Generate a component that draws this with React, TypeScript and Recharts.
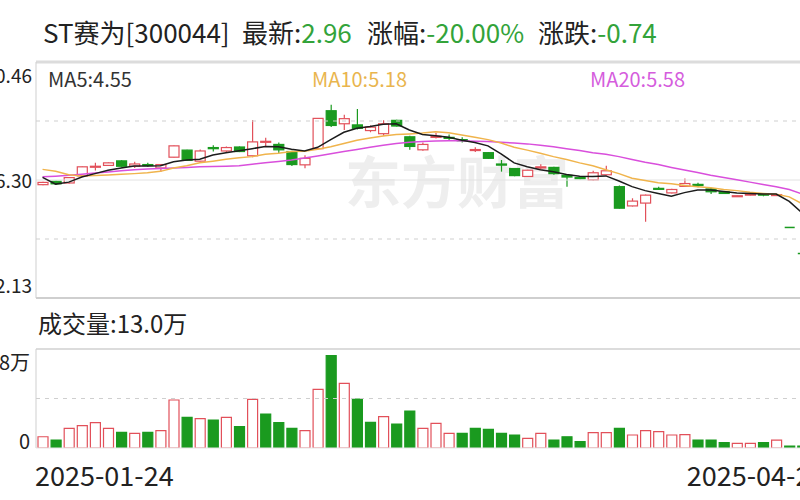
import React from "react";
import {
  ComposedChart,
  Bar,
  Line,
  XAxis,
  YAxis,
  ReferenceLine,
  Cell,
} from "recharts";

const dates = [
  "2025-01-24", "2025-01-27",
  "2025-02-05", "2025-02-06", "2025-02-07", "2025-02-10", "2025-02-11", "2025-02-12", "2025-02-13", "2025-02-14",
  "2025-02-17", "2025-02-18", "2025-02-19", "2025-02-20", "2025-02-21", "2025-02-24", "2025-02-25", "2025-02-26",
  "2025-02-27", "2025-02-28",
  "2025-03-03", "2025-03-04", "2025-03-05", "2025-03-06", "2025-03-07", "2025-03-10", "2025-03-11", "2025-03-12",
  "2025-03-13", "2025-03-14", "2025-03-17", "2025-03-18", "2025-03-19", "2025-03-20", "2025-03-21", "2025-03-24",
  "2025-03-25", "2025-03-26", "2025-03-27", "2025-03-28", "2025-03-31",
  "2025-04-01", "2025-04-02", "2025-04-03", "2025-04-07", "2025-04-08", "2025-04-09", "2025-04-10", "2025-04-11",
  "2025-04-14", "2025-04-15", "2025-04-16", "2025-04-17", "2025-04-18", "2025-04-21", "2025-04-22", "2025-04-23",
  "2025-04-24", "2025-04-25", "2025-04-28",
];

const opens = [
  6.13, 6.25, 6.19, 6.44, 6.75, 6.81, 6.97, 6.78, 6.84, 6.72,
  7.10, 7.35, 6.96, 7.44, 7.32, 7.46, 7.15, 7.64, 7.55, 7.30,
  6.83, 7.40, 8.74, 8.28, 8.24, 8.04, 7.93, 8.40, 7.82, 7.36,
  7.80, 7.80, 7.72, 7.34, 7.26, 6.86, 6.70, 6.42, 6.72, 6.74,
  6.46, 6.38, 6.30, 6.48, 6.06, 5.38, 5.48, 6.00, 5.84, 6.07,
  6.14, 5.98, 5.88, 5.72, 5.76, 5.80, 5.76, 4.62, 3.70, 2.96,
];
const highs = [
  6.23, 6.27, 6.40, 6.78, 6.90, 6.92, 6.99, 6.94, 6.90, 6.86,
  7.52, 7.36, 7.37, 7.52, 7.48, 7.48, 8.41, 7.79, 7.62, 7.33,
  7.17, 8.47, 8.95, 8.60, 8.80, 8.22, 8.40, 8.42, 7.86, 7.62,
  7.95, 7.90, 7.80, 7.45, 7.28, 7.00, 6.72, 6.66, 6.85, 6.76,
  6.47, 6.40, 6.62, 6.80, 6.10, 5.65, 5.78, 6.06, 5.99, 6.35,
  6.20, 6.02, 5.90, 5.76, 5.82, 5.82, 5.80, 4.62, 3.70, 2.96,
];
const lows = [
  6.11, 6.13, 6.17, 6.42, 6.63, 6.79, 6.74, 6.72, 6.76, 6.59,
  7.08, 6.97, 6.94, 7.30, 7.28, 7.28, 7.10, 7.47, 7.24, 6.79,
  6.71, 7.38, 8.17, 8.06, 8.08, 7.98, 7.86, 8.18, 7.36, 7.33,
  7.76, 7.70, 7.62, 7.28, 7.04, 6.59, 6.43, 6.40, 6.68, 6.48,
  6.06, 6.32, 6.28, 6.45, 5.28, 5.36, 4.82, 5.94, 5.82, 6.05,
  6.04, 5.80, 5.80, 5.70, 5.74, 5.72, 5.74, 4.62, 3.70, 2.96,
];
const closes = [
  6.21, 6.16, 6.38, 6.76, 6.78, 6.90, 6.78, 6.86, 6.82, 6.84,
  7.50, 6.99, 7.32, 7.40, 7.44, 7.30, 7.64, 7.66, 7.36, 6.84,
  7.06, 8.47, 8.22, 8.46, 8.12, 8.16, 8.28, 8.20, 7.48, 7.55,
  7.84, 7.78, 7.68, 7.37, 7.06, 6.82, 6.45, 6.64, 6.76, 6.52,
  6.40, 6.34, 6.55, 6.62, 5.30, 5.55, 5.76, 5.98, 5.96, 6.17,
  6.10, 5.88, 5.82, 5.74, 5.80, 5.76, 5.78, 4.62, 3.70, 2.96,
];

// moving averages as drawn in the picture
const ma5 = [
  6.39, 6.15, 6.22, 6.40, 6.52, 6.64, 6.72, 6.79, 6.79, 6.80,
  6.94, 7.00, 7.03, 7.18, 7.26, 7.33, 7.40, 7.48, 7.47, 7.38,
  7.32, 7.45, 7.72, 7.98, 8.12, 8.18, 8.26, 8.28, 8.06, 7.90,
  7.86, 7.80, 7.70, 7.62, 7.50, 7.22, 6.90, 6.76, 6.66, 6.59,
  6.49, 6.43, 6.42, 6.44, 6.26, 6.06, 5.92, 5.82, 5.72, 5.85,
  5.94, 5.94, 5.89, 5.84, 5.82, 5.80, 5.80, 5.54, 5.13, 4.55,
];
const ma10 = [
  6.67, 6.60, 6.48, 6.44, 6.45, 6.47, 6.50, 6.52, 6.55, 6.60,
  6.72, 6.80, 6.90, 6.96, 7.03, 7.08, 7.12, 7.20, 7.24, 7.30,
  7.31, 7.38, 7.47, 7.58, 7.70, 7.78, 7.85, 7.90, 7.92, 7.95,
  8.00, 7.96, 7.88, 7.80, 7.72, 7.60, 7.45, 7.35, 7.24, 7.12,
  7.02, 6.90, 6.80, 6.66, 6.52, 6.36, 6.28, 6.20, 6.16, 6.10,
  6.06, 6.02, 5.96, 5.92, 5.86, 5.82, 5.79, 5.70, 5.45, 5.18,
];
const ma20 = [
  6.41, 6.43, 6.46, 6.50, 6.54, 6.58, 6.62, 6.66, 6.68, 6.70,
  6.72, 6.74, 6.76, 6.77, 6.78, 6.80, 6.85, 6.90, 6.95, 7.00,
  7.07, 7.14, 7.22, 7.30, 7.37, 7.45, 7.52, 7.58, 7.63, 7.65,
  7.67, 7.68, 7.68, 7.66, 7.65, 7.63, 7.60, 7.57, 7.52, 7.47,
  7.40, 7.34, 7.26, 7.20, 7.12, 7.02, 6.92, 6.84, 6.74, 6.65,
  6.56, 6.46, 6.38, 6.30, 6.22, 6.14, 6.06, 5.96, 5.80, 5.58,
];

// volume in 万手
const volumes = [
  2.05, 1.45, 3.58, 4.06, 4.6, 3.58, 2.85, 2.67, 2.85, 3.15,
  8.73, 5.58, 5.33, 5.09, 5.58, 3.88, 8.85, 6.18, 4.6, 3.58,
  3.15, 10.67, 16.78, 11.76, 8.91, 4.67, 5.7, 4.36, 6.73, 3.58,
  4.49, 2.67, 2.67, 3.58, 3.39, 2.67, 2.36, 1.76, 2.67, 1.45,
  2.05, 1.15, 2.79, 2.79, 3.58, 2.36, 3.15, 2.97, 2.36, 2.42,
  1.45, 1.45, 0.97, 0.85, 0.85, 0.97, 1.45, 0.36, 0.36, 13.0,
];
const volColors = [
  "r", "g", "r", "r", "r", "r", "g", "r", "g", "r",
  "r", "g", "r", "g", "r", "g", "r", "g", "g", "g",
  "r", "r", "g", "r", "g", "g", "r", "g", "g", "r",
  "r", "r", "g", "g", "g", "g", "g", "r", "r", "g",
  "g", "g", "r", "r", "g", "r", "r", "r", "r", "r",
  "g", "g", "g", "r", "r", "g", "r", "g", "g", "g",
];

const priceTicks = [2.13, 6.295, 10.46];
const priceTickLabels = ["2.13", "6.30", "10.46"];
const volTicks = [0, 18];
const volTickLabels = ["0", "18万"];

const RED = "#e2505a";
const GREEN = "#1a9a1f";
const FONT = "'Noto Sans CJK SC', 'Noto Sans', sans-serif";

const data = dates.map((d, i) => ({
  date: d,
  o: opens[i],
  h: highs[i],
  l: lows[i],
  c: closes[i],
  up:
    closes[i] > opens[i] ||
    (closes[i] === opens[i] && i > 0 && closes[i] >= closes[i - 1]),
  ma5: ma5[i],
  ma10: ma10[i],
  ma20: ma20[i],
  vol: volumes[i],
  volUp: volColors[i] === "r",
}));

const Candle = (props: any) => {
  const { x, y, width, height, payload } = props;
  if (x == null || y == null) return null;
  const { o, h, l, c, up } = payload;
  const color = up ? RED : GREEN;
  const cx = x + width / 2;
  const y1 = Math.min(y, y + height);
  const y2 = Math.max(y, y + height);
  if (h === l || y2 - y1 < 0.5) {
    return <line x1={cx - 5} x2={cx + 5} y1={y1} y2={y1} stroke={color} strokeWidth={1.5} />;
  }
  const k = (y2 - y1) / (h - l);
  const py = (p: number) => y1 + (h - p) * k;
  const top = py(Math.max(o, c));
  const bot = py(Math.min(o, c));
  const bw = 10;
  return (
    <g>
      <line x1={cx} x2={cx} y1={y1} y2={top} stroke={color} strokeWidth={1.2} />
      <line x1={cx} x2={cx} y1={bot} y2={y2} stroke={color} strokeWidth={1.2} />
      <rect
        x={cx - bw / 2}
        y={top}
        width={bw}
        height={Math.max(bot - top, 1)}
        fill={up ? "#fff" : color}
        stroke={color}
        strokeWidth={1.2}
      />
    </g>
  );
};

const PriceTick = (props: any) => {
  const { x, y, index } = props;
  const dy = index === 2 ? 12 : index === 0 ? -14 : -1;
  return (
    <text x={x + 4} y={y + dy} textAnchor="end" dominantBaseline="central" fontSize={19} fill="#222" fontFamily={FONT}>
      {priceTickLabels[index]}
    </text>
  );
};

const VolTick = (props: any) => {
  const { x, y, index } = props;
  const dy = index === 1 ? 12 : -8;
  return (
    <text x={x + 2} y={y + dy} textAnchor="end" dominantBaseline="central" fontSize={20} fill="#222" fontFamily={FONT}>
      {volTickLabels[index]}
    </text>
  );
};

const DateTick = (props: any) => {
  const { x, y, payload } = props;
  const first = payload.value === dates[0];
  return (
    <text
      x={first ? x - 7.5 : x + 10}
      y={y + 18}
      textAnchor={first ? "start" : "end"}
      dominantBaseline="central"
      fontSize={27}
      fill="#222"
      fontFamily={FONT}
    >
      {payload.value}
    </text>
  );
};

export default function App() {
  return (
    <div
      style={{
        position: "absolute",
        left: 0,
        top: 0,
        width: 800,
        height: 500,
        overflow: "hidden",
        background: "#fff",
        fontFamily: FONT,
        color: "#222",
      }}
    >
      {/* title */}
      <div style={{ position: "absolute", top: 17, left: 43, fontSize: 26, lineHeight: "30px", whiteSpace: "nowrap" }}>
        ST赛为[300044]
      </div>
      <div style={{ position: "absolute", top: 17, left: 242, fontSize: 26, lineHeight: "30px", whiteSpace: "nowrap" }}>
        最新:<span style={{ color: "#33a33a" }}>2.96</span>
      </div>
      <div style={{ position: "absolute", top: 17, left: 367, fontSize: 26, lineHeight: "30px", whiteSpace: "nowrap" }}>
        涨幅:<span style={{ color: "#33a33a" }}>-20.00%</span>
      </div>
      <div style={{ position: "absolute", top: 17, left: 538, fontSize: 26, lineHeight: "30px", whiteSpace: "nowrap" }}>
        涨跌:<span style={{ color: "#33a33a" }}>-0.74</span>
      </div>

      {/* watermark */}
      <div
        style={{
          position: "absolute",
          top: 146,
          left: 345,
          fontSize: 56,
          lineHeight: "66px",
          fontWeight: 700,
          color: "#eeeeee",
          whiteSpace: "nowrap",
        }}
      >
        东方财富
      </div>

      {/* MA legend */}
      <div style={{ position: "absolute", top: 67, left: 48, fontSize: 20, lineHeight: "24px", color: "#333" }}>MA5:4.55</div>
      <div style={{ position: "absolute", top: 67, left: 312, fontSize: 20, lineHeight: "24px", color: "#e9b54e" }}>MA10:5.18</div>
      <div style={{ position: "absolute", top: 67, left: 590, fontSize: 20, lineHeight: "24px", color: "#d55ddd" }}>MA20:5.58</div>

      <div style={{ position: "absolute", top: 0, left: 0 }}>
        <ComposedChart width={830} height={300} data={data} margin={{ top: 62, right: 8, bottom: 2, left: 0 }}>
          <XAxis dataKey="date" hide />
          <YAxis
            type="number"
            domain={[2.13, 10.46]}
            ticks={priceTicks}
            interval={0}
            width={36}
            allowDataOverflow
            axisLine={{ stroke: "#cfcfcf" }}
            tickLine={false}
            tick={<PriceTick />}
          />
          <ReferenceLine y={10.46} stroke="#dcdcdc" strokeWidth={3} />
          <ReferenceLine y={8.3775} stroke="#cfcfcf" strokeDasharray="4 5" />
          <ReferenceLine y={6.295} stroke="#e2e2e2" />
          <ReferenceLine y={4.2125} stroke="#cfcfcf" strokeDasharray="4 5" />
          <ReferenceLine y={2.13} stroke="#cfcfcf" strokeWidth={2} />
          <Bar dataKey={(d: any) => [d.l, d.h]} shape={<Candle />} barSize={10} isAnimationActive={false} />
          <Line dataKey="ma20" type="linear" stroke="#d94fdc" strokeWidth={1.5} dot={false} isAnimationActive={false} />
          <Line dataKey="ma10" type="linear" stroke="#f0b44c" strokeWidth={1.5} dot={false} isAnimationActive={false} />
          <Line dataKey="ma5" type="linear" stroke="#1c1c1c" strokeWidth={1.5} dot={false} isAnimationActive={false} />
        </ComposedChart>
      </div>

      <div style={{ position: "absolute", top: 309, left: 38, fontSize: 24, lineHeight: "28px", color: "#222" }}>
        成交量:13.0万
      </div>

      <div style={{ position: "absolute", top: 300, left: 0 }}>
        <ComposedChart width={830} height={200} data={data} margin={{ top: 49, right: 8, bottom: 12, left: 0 }}>
          <XAxis
            dataKey="date"
            ticks={[dates[0], dates[dates.length - 1]]}
            interval={0}
            height={40}
            axisLine={{ stroke: "#e6e6e6" }}
            tickLine={false}
            tick={<DateTick />}
          />
          <YAxis
            type="number"
            domain={[0, 18]}
            ticks={volTicks}
            interval={0}
            width={36}
            allowDataOverflow
            axisLine={{ stroke: "#cfcfcf" }}
            tickLine={false}
            tick={<VolTick />}
          />
          <ReferenceLine y={18} stroke="#dcdcdc" strokeWidth={2} />
          <ReferenceLine y={9} stroke="#cfcfcf" strokeDasharray="4 5" />
          <Bar dataKey="vol" barSize={10} isAnimationActive={false}>
            {data.map((d, i) => (
              <Cell
                key={i}
                fill={d.volUp ? "#fff" : GREEN}
                stroke={d.volUp ? RED : GREEN}
                strokeWidth={1.2}
              />
            ))}
          </Bar>
        </ComposedChart>
      </div>
    </div>
  );
}
